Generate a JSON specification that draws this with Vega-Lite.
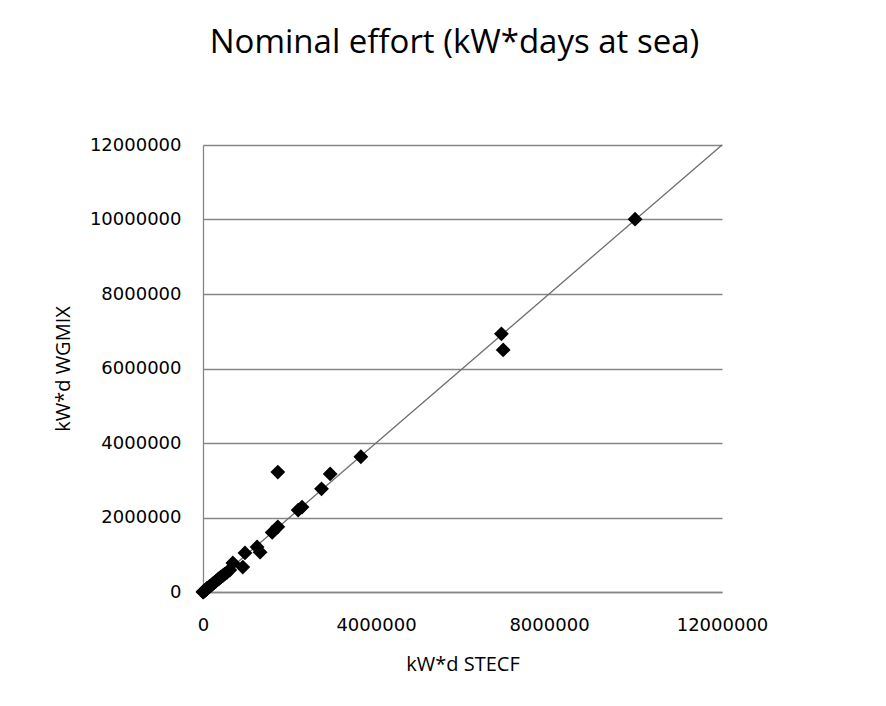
{
  "$schema": "https://vega.github.io/schema/vega-lite/v6.json",
  "autosize": "none",
  "width": 519,
  "height": 447,
  "padding": {"left": 203, "top": 145, "right": 164, "bottom": 114},
  "background": "white",
  "title": {
    "text": "Nominal effort (kW*days at sea)",
    "font": "Open Sans",
    "fontSize": 33,
    "fontWeight": "normal",
    "color": "#000000",
    "baseline": "alphabetic",
    "offset": 50,
    "dx": -8
  },
  "config": {
    "view": {"stroke": null},
    "axis": {
      "labelFont": "DejaVu Sans",
      "labelFontSize": 18,
      "labelColor": "#000000",
      "titleFont": "Open Sans",
      "titleFontSize": 20,
      "titleFontWeight": "normal",
      "titleColor": "#000000",
      "gridColor": "#868686",
      "gridWidth": 1.3,
      "domainColor": "#868686",
      "domainWidth": 1.3,
      "ticks": false
    }
  },
  "datasets": {
    "pts": [
      {"stecf": 0, "wgmix": 0},
      {"stecf": 5000, "wgmix": 5000},
      {"stecf": 10000, "wgmix": 12000},
      {"stecf": 20000, "wgmix": 15000},
      {"stecf": 35000, "wgmix": 30000},
      {"stecf": 50000, "wgmix": 42000},
      {"stecf": 70000, "wgmix": 65000},
      {"stecf": 90000, "wgmix": 95000},
      {"stecf": 110000, "wgmix": 105000},
      {"stecf": 140000, "wgmix": 135000},
      {"stecf": 170000, "wgmix": 165000},
      {"stecf": 200000, "wgmix": 190000},
      {"stecf": 230000, "wgmix": 225000},
      {"stecf": 260000, "wgmix": 250000},
      {"stecf": 300000, "wgmix": 290000},
      {"stecf": 340000, "wgmix": 330000},
      {"stecf": 380000, "wgmix": 370000},
      {"stecf": 420000, "wgmix": 410000},
      {"stecf": 460000, "wgmix": 440000},
      {"stecf": 500000, "wgmix": 480000},
      {"stecf": 550000, "wgmix": 520000},
      {"stecf": 620000, "wgmix": 590000},
      {"stecf": 690000, "wgmix": 780000},
      {"stecf": 920000, "wgmix": 670000},
      {"stecf": 970000, "wgmix": 1050000},
      {"stecf": 1250000, "wgmix": 1210000},
      {"stecf": 1320000, "wgmix": 1070000},
      {"stecf": 1600000, "wgmix": 1600000},
      {"stecf": 1730000, "wgmix": 1750000},
      {"stecf": 1730000, "wgmix": 3220000},
      {"stecf": 2200000, "wgmix": 2200000},
      {"stecf": 2290000, "wgmix": 2280000},
      {"stecf": 2740000, "wgmix": 2770000},
      {"stecf": 2940000, "wgmix": 3170000},
      {"stecf": 3650000, "wgmix": 3630000},
      {"stecf": 6900000, "wgmix": 6930000},
      {"stecf": 6940000, "wgmix": 6500000},
      {"stecf": 9990000, "wgmix": 10010000}
    ],
    "fit": [
      {"stecf": 0, "wgmix": 0},
      {"stecf": 12000000, "wgmix": 12000000}
    ]
  },
  "layer": [
    {
      "data": {"name": "fit"},
      "mark": {"type": "line", "color": "#6e6e6e", "strokeWidth": 1.3},
      "encoding": {
        "x": {"field": "stecf", "type": "quantitative"},
        "y": {"field": "wgmix", "type": "quantitative"}
      }
    },
    {
      "data": {"name": "pts"},
      "mark": {"type": "point", "shape": "diamond", "filled": true, "color": "#000000", "size": 220, "opacity": 1},
      "encoding": {
        "x": {
          "field": "stecf",
          "type": "quantitative",
          "scale": {"domain": [0, 12000000], "nice": false},
          "axis": {
            "values": [0, 4000000, 8000000, 12000000],
            "format": "d",
            "grid": false,
            "labelFlush": false,
            "labelOverlap": false,
            "labelPadding": 24,
            "title": "kW*d STECF",
            "titlePadding": 20
          }
        },
        "y": {
          "field": "wgmix",
          "type": "quantitative",
          "scale": {"domain": [0, 12000000], "nice": false},
          "axis": {
            "values": [0, 2000000, 4000000, 6000000, 8000000, 10000000, 12000000],
            "format": "d",
            "grid": true,
            "labelFlush": false,
            "labelOverlap": false,
            "labelPadding": 22,
            "title": "kW*d WGMIX",
            "titlePadding": 16
          }
        }
      }
    }
  ]
}
